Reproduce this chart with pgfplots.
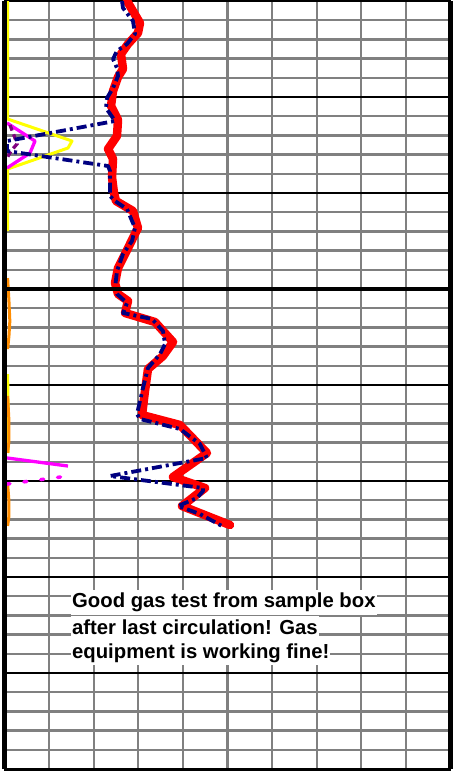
\documentclass[border=0pt]{standalone}
\usepackage{pgfplots}
\pgfplotsset{compat=1.18}
\usepackage{fontspec}
\setmainfont{Liberation Sans}
\definecolor{gridgray}{RGB}{128,128,128}
\definecolor{navyb}{RGB}{0,0,128}
\definecolor{magn}{RGB}{255,0,255}
\definecolor{yel}{RGB}{255,255,0}
\definecolor{purp}{RGB}{128,0,128}
\definecolor{orng}{RGB}{255,140,0}
\pgfplotstableread{
x d
2.747 0
3.038 1.146
2.993 1.667
2.769 2.240
2.612 2.760
2.657 3.542
2.545 3.958
2.433 4.688
2.388 5.469
2.545 6.198
2.522 7.031
2.321 7.708
2.433 8.229
2.410 9.167
2.455 10.0
2.500 10.417
2.881 10.938
2.993 11.823
2.769 12.865
2.545 13.906
2.478 14.688
2.545 15.260
2.769 15.625
2.702 16.250
3.374 16.719
3.778 17.760
3.554 18.490
3.217 19.167
3.150 20.313
3.083 21.563
3.935 22.083
4.540 23.542
3.778 24.792
4.496 25.365
3.980 26.302
5.056 27.292
}\redtab
\pgfplotstableread{
x d
2.635 0
2.657 0.365
2.881 1.042
2.926 1.719
2.747 2.240
2.522 2.604
2.433 3.021
2.522 3.490
2.545 3.906
2.433 4.531
2.298 5.052
2.276 5.573
2.478 6.250
0.056 7.292
0.056 7.813
2.321 8.594
2.365 8.854
2.365 10.156
2.478 10.417
2.747 10.833
2.926 11.823
2.859 12.500
2.657 13.177
2.522 14.063
2.478 14.948
2.522 15.260
2.747 15.729
2.657 16.250
3.307 16.563
3.554 17.188
3.599 17.865
3.487 18.385
3.217 19.115
3.105 20.156
3.038 20.833
2.971 21.510
3.038 21.771
3.935 22.292
4.383 23.073
4.540 23.802
2.365 24.740
4.451 25.365
4.451 25.521
4.316 25.885
3.890 26.302
4.383 26.719
4.877 27.344
}\bluetab
\begin{document}
\begin{tikzpicture}
\useasboundingbox (0,0) rectangle (458pt,771pt);
\begin{axis}[
  at={(4.5pt,2pt)}, anchor=south west,
  scale only axis, width=446pt, height=768pt,
  xmin=0, xmax=10, ymin=0, ymax=40, y dir=reverse,
  xtick={0,...,10},
  ytick={1,2,3,4,6,7,8,9,11,12,13,14,16,17,18,19,21,22,23,24,26,27,28,29,31,32,33,34,36,37,38,39},
  extra y ticks={0,5,10,15,20,25,30,35,40},
  extra y tick labels={},
  extra y tick style={major grid style={black,line width=2.2pt}},
  xticklabels={}, yticklabels={},
  major tick length=0pt,
  grid=major,
  major grid style={gridgray,line width=2.3pt},
  axis line style={draw=none},
  clip=false,
]
% near-zero curves along left edge
\addplot[yel,line width=3pt,line join=round] coordinates {(0.07,0) (0.07,6.146) (1.513,7.292) (1.424,7.656) (0.07,8.75) (0.07,11.98)};
\addplot[yel,line width=3pt] coordinates {(0.07,19.43) (0.08,21.0) (0.08,23.54)};
\addplot[orng,line width=3pt,line join=round] coordinates {(0.07,14.43) (0.10,15.63) (0.12,16.67) (0.10,17.45) (0.07,18.13)};
\addplot[orng,line width=3pt,line join=round] coordinates {(0.07,20.57) (0.10,21.88) (0.10,22.92) (0.07,23.54)};
\addplot[orng,line width=3pt,line join=round] coordinates {(0.07,25.16) (0.10,26.04) (0.10,26.82) (0.07,27.34)};
\addplot[magn,line width=3.3pt,line join=round] coordinates {(0.056,6.354) (0.684,7.292) (0.572,7.917) (0.056,8.698)};
\addplot[magn,line width=3.3pt] coordinates {(0.056,23.80) (1.424,24.22)};
\addplot[magn,line width=3.5pt,line cap=round,dash pattern=on 3pt off 14pt] coordinates {(0.056,25.16) (1.424,24.74)};
\addplot[purp,line width=3.3pt,dash pattern=on 6pt off 4pt] coordinates {(0.123,6.458) (0.235,7.135) (0.28,7.448) (0.15,7.8) (0.056,8.177)};
% red and blue curves
\addplot[red,line width=8.5pt,line join=round,line cap=round] table[x=x,y=d] {\redtab};
\addplot[navyb,line width=3.8pt,line join=round,dash pattern=on 10pt off 4pt on 3pt off 4pt] table[x=x,y=d] {\bluetab};
% frame
\draw[black,line width=4.5pt] (rel axis cs:0,0) -- (rel axis cs:0,1);
\draw[black,line width=4.5pt] (rel axis cs:1,0) -- (rel axis cs:1,1);
\draw[black,line width=4pt] (axis cs:0,15) -- (axis cs:10,15);
\draw[black,line width=3pt] (axis cs:0,40) -- (axis cs:10,40);
% note
\begin{scope}[every node/.style={anchor=base west,fill=white,inner ysep=0pt,inner xsep=1pt,text height=18pt,text depth=7pt,font=\bfseries\fontsize{20.3}{25}\selectfont}]
\node at (axis cs:1.49,31.61) {Good gas test from sample box};
\node at (axis cs:1.49,32.97) {after last circulation! Gas};
\node at (axis cs:1.49,34.22) {equipment is working fine!};
\end{scope}
\end{axis}
\end{tikzpicture}
\end{document}
